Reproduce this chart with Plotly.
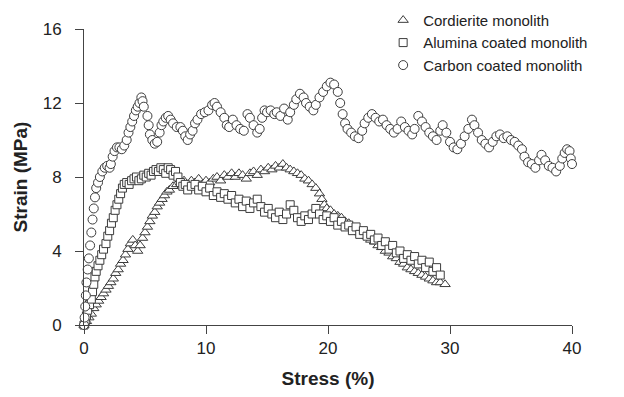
import plotly.graph_objects as go

# Cordierite monolith (triangles)
cord_x = [0, 0.2, 0.4, 0.6, 0.8, 1.0, 1.2, 1.4, 1.6, 1.8, 2.0, 2.2, 2.4, 2.6, 2.8, 3.0, 3.2, 3.4, 3.6, 3.8,
          4.0, 4.2, 4.4, 4.6, 4.8, 5.0, 5.2, 5.4, 5.6, 5.8, 6.0, 6.2, 6.4, 6.6, 6.8, 7.0, 7.3, 7.6, 7.9, 8.2,
          8.5, 8.8, 9.1, 9.4, 9.7, 10.0, 10.3, 10.6, 10.9, 11.2, 11.5, 11.8, 12.1, 12.4, 12.7, 13.0, 13.3, 13.6,
          13.9, 14.2, 14.5, 14.8, 15.1, 15.4, 15.7, 16.0, 16.3, 16.6, 16.9, 17.2, 17.5, 17.8, 18.1, 18.4, 18.7,
          19.0, 19.3, 19.5, 19.7, 19.9, 20.2, 20.5, 20.8, 21.1, 21.4, 21.7, 22.0, 22.3, 22.6, 22.9, 23.2, 23.5,
          23.8, 24.1, 24.4, 24.7, 25.0, 25.3, 25.6, 25.9, 26.2, 26.5, 26.8, 27.1, 27.4, 27.7, 28.0, 28.3, 28.6,
          28.9, 29.2, 29.6]
cord_y = [0, 0.2, 0.4, 0.6, 0.9, 1.1, 1.3, 1.5, 1.7, 1.9, 2.1, 2.3, 2.5, 2.8, 3.0, 3.3, 3.5, 3.8, 4.1, 4.4,
          4.6, 4.3, 4.0, 4.3, 4.7, 5.0, 5.3, 5.6, 5.9, 6.1, 6.4, 6.6, 6.8, 7.0, 7.2, 7.3, 7.5, 7.6, 7.7, 7.8,
          7.6, 7.8, 7.7, 7.9, 7.6, 7.8, 7.7, 7.9, 8.0, 7.8, 8.1, 8.0, 8.2, 8.0, 8.2, 8.1, 7.9, 8.2,
          8.3, 8.1, 8.4, 8.3, 8.5, 8.4, 8.6, 8.5, 8.7, 8.5, 8.4, 8.3, 8.2, 8.1, 7.9, 7.8, 7.6,
          7.4, 7.1, 6.8, 6.5, 6.3, 6.2, 6.0, 5.9, 5.8, 5.6, 5.5, 5.3, 5.2, 5.0, 4.9, 4.8, 4.6,
          4.5, 4.3, 4.2, 4.0, 3.9, 3.7, 3.6, 3.4, 3.3, 3.1, 3.0, 2.9, 2.8, 2.7, 2.6, 2.5, 2.4,
          2.3, 2.3, 2.2]

# Alumina coated monolith (squares)
alum_x = [0, 0.1, 0.2, 0.3, 0.45, 0.6, 0.7, 0.8, 0.9, 1.0, 1.15, 1.3, 1.45, 1.6, 1.8, 1.95, 2.1, 2.25, 2.4,
          2.55, 2.7, 2.85, 3.0, 3.15, 3.3, 3.5, 3.7, 3.9, 4.1, 4.3, 4.5, 4.7, 4.9, 5.1, 5.3, 5.5, 5.7, 5.9,
          6.1, 6.3, 6.5, 6.7, 6.9, 7.1, 7.3, 7.5, 7.7, 7.9, 8.1, 8.3, 8.5, 8.8, 9.1, 9.4, 9.7, 10.0, 10.3,
          10.6, 10.9, 11.2, 11.5, 11.8, 12.1, 12.4, 12.7, 13.0, 13.3, 13.6, 13.9, 14.2, 14.5, 14.8, 15.1,
          15.4, 15.7, 16.0, 16.3, 16.6, 16.9, 17.2, 17.5, 17.8, 18.1, 18.4, 18.7, 19.0, 19.3, 19.6, 19.9,
          20.2, 20.5, 20.8, 21.1, 21.4, 21.7, 22.0, 22.3, 22.6, 22.9, 23.2, 23.5, 23.8, 24.1, 24.4, 24.7,
          25.0, 25.3, 25.6, 25.9, 26.2, 26.5, 26.8, 27.1, 27.4, 27.7, 28.0, 28.3, 28.6, 28.9, 29.2]
alum_y = [0, 0.2, 0.5, 0.8, 1.1, 1.4, 1.8, 2.2, 2.6, 2.9, 3.2, 3.5, 3.8, 4.1, 4.4, 4.8, 5.1, 5.5, 5.8,
          6.2, 6.5, 6.8, 7.1, 7.4, 7.6, 7.7, 7.6, 7.8, 7.9, 8.0, 7.8, 7.9, 8.1, 8.0, 8.2, 8.1, 8.3, 8.4,
          8.3, 8.5, 8.4, 8.2, 8.5, 8.4, 8.1, 8.3, 8.0, 7.7, 7.5, 7.6, 7.3, 7.5, 7.6, 7.3, 7.5, 7.2, 7.4,
          7.0, 7.2, 6.9, 7.1, 6.8, 7.0, 6.6, 6.8, 6.4, 6.7, 6.3, 6.6, 6.8, 6.4, 6.1, 6.3,
          6.0, 5.8, 6.1, 5.7, 6.0, 6.5, 6.2, 5.8, 5.6, 5.9, 5.7, 6.0, 6.3, 6.0, 5.7, 5.9,
          5.6, 5.8, 5.4, 5.6, 5.3, 5.4, 5.1, 5.3, 4.9, 5.1, 4.8, 4.9, 4.6, 4.7, 4.3, 4.5,
          4.1, 4.3, 3.9, 4.0, 3.6, 3.8, 3.5, 3.7, 3.3, 3.5, 3.1, 3.4, 2.9, 3.1, 2.7]

# Carbon coated monolith (circles)
carb_x = [0, 0.05, 0.1, 0.15, 0.2, 0.3, 0.4, 0.5, 0.6, 0.7, 0.8, 0.9, 1.0, 1.15, 1.3, 1.5, 1.7, 1.9, 2.1,
          2.2, 2.35, 2.5, 2.7, 2.9, 3.1, 3.3, 3.5, 3.65, 3.8, 3.95, 4.1, 4.25, 4.4, 4.55, 4.7, 4.8, 4.9,
          5.2, 5.3, 5.4, 5.6, 5.8, 6.0, 6.2, 6.35, 6.5, 6.7, 6.9, 7.1, 7.3, 7.6, 7.9, 8.1, 8.3, 8.5, 8.7,
          8.9, 9.1, 9.3, 9.6, 9.9, 10.2, 10.5, 10.7, 10.9, 11.2, 11.5, 11.7, 11.9, 12.2, 12.5, 12.8, 13.1,
          13.4, 13.6, 13.9, 14.2, 14.4, 14.6, 14.8, 15.0, 15.3, 15.6, 15.8, 16.1, 16.4, 16.7, 16.9, 17.2,
          17.4, 17.7, 18.0, 18.2, 18.5, 18.8, 19.0, 19.3, 19.6, 19.9, 20.2, 20.5, 20.8, 21.0, 21.2, 21.4,
          21.6, 21.9, 22.2, 22.5, 22.8, 23.0, 23.3, 23.6, 23.9, 24.2, 24.5, 24.8, 25.1, 25.4, 25.7, 26.0,
          26.3, 26.6, 26.9, 27.1, 27.4, 27.7, 28.0, 28.3, 28.6, 28.9, 29.2, 29.4, 29.7, 30.0, 30.3, 30.6,
          30.9, 31.2, 31.5, 31.8, 32.0, 32.3, 32.6, 32.9, 33.2, 33.5, 33.8, 34.1, 34.4, 34.7, 35.0, 35.3,
          35.6, 35.9, 36.1, 36.4, 36.7, 37.0, 37.3, 37.5, 37.8, 38.1, 38.4, 38.7, 39.0, 39.2, 39.4, 39.6,
          39.8, 39.9, 40.0, 40.1, 40.2, 40.3]
carb_y = [0, 0.4, 1.0, 1.6, 2.3, 3.0, 3.6, 4.3, 5.0, 5.7, 6.3, 6.9, 7.4, 7.7, 8.0, 8.3, 8.5, 8.6, 8.5,
          8.7, 9.1, 9.4, 9.6, 9.6, 9.5, 9.7, 10.0, 10.4, 10.7, 11.0, 11.3, 11.6, 11.8, 12.0, 12.3, 12.1, 11.8,
          11.3, 10.8, 10.3, 10.0, 9.8, 9.9, 10.4, 10.8, 11.0, 11.2, 11.3, 11.1, 10.9, 10.7, 10.7, 10.5, 10.2, 10.0, 10.3,
          10.5, 10.9, 11.1, 11.4, 11.5, 11.6, 11.9, 12.0, 11.8, 11.5, 11.2, 10.8, 10.7, 11.1, 10.8, 10.6, 10.5,
          11.4, 11.2, 10.8, 10.4, 10.6, 11.2, 11.6, 11.5, 11.6, 11.4, 11.5, 11.3, 11.7, 11.1, 11.5, 11.9,
          12.2, 12.5, 12.3, 12.0, 11.8, 11.6, 11.9, 12.3, 12.6, 12.9, 13.1, 13.0, 12.6, 12.0, 11.4, 10.9,
          10.6, 10.4, 10.2, 10.1, 10.5, 10.9, 11.2, 11.4, 11.2, 11.0, 11.1, 10.8, 10.6, 10.4, 10.6, 11.0,
          10.7, 10.5, 10.3, 10.6, 11.3, 11.0, 10.7, 10.4, 10.2, 10.0, 10.5, 10.8, 10.4, 9.9, 9.6, 9.5,
          9.8, 10.2, 10.6, 11.1, 10.8, 10.4, 10.0, 9.8, 9.6, 9.9, 10.2, 10.3, 10.1, 10.2, 10.0, 9.9,
          9.7, 9.5, 9.1, 8.8, 8.7, 8.5, 8.9, 9.2, 8.9, 8.6, 8.5, 8.3, 8.6, 9.0, 9.3, 9.5,
          9.4, 9.0, 8.7, 8.4, 8.6, 8.3]

x_ticks = [0, 10, 20, 30, 40]
y_ticks = [0, 4, 8, 12, 16]

edge = "#3c3c3c"
axis_col = "#444444"
font_family = "Liberation Sans, Arial, sans-serif"

fig = go.Figure()
fig.add_trace(go.Scatter(x=cord_x, y=cord_y, mode="markers", name="Cordierite monolith",
                         cliponaxis=False,
                         marker=dict(symbol="triangle-up", size=9, color="white",
                                     line=dict(color=edge, width=1))))
fig.add_trace(go.Scatter(x=alum_x, y=alum_y, mode="markers", name="Alumina coated monolith",
                         cliponaxis=False,
                         marker=dict(symbol="square", size=8, color="white",
                                     line=dict(color=edge, width=1))))
fig.add_trace(go.Scatter(x=carb_x, y=carb_y, mode="markers", name="Carbon coated monolith",
                         cliponaxis=False,
                         marker=dict(symbol="circle", size=9, color="white",
                                     line=dict(color=edge, width=1))))

fig.update_layout(
    width=624, height=397,
    margin=dict(l=84, r=52, t=29, b=72, autoexpand=False),
    paper_bgcolor="white", plot_bgcolor="white",
    font=dict(family=font_family, color="#222222"),
    showlegend=True,
    legend=dict(x=0.613, y=1.085, xanchor="left", yanchor="top",
                font=dict(size=15, color="#222222"), bgcolor="rgba(0,0,0,0)",
                itemsizing="trace", tracegroupgap=0),
    xaxis=dict(range=[0, 40], tickvals=x_ticks, ticktext=[str(v) for v in x_ticks],
               showgrid=False, zeroline=False, showline=True, linecolor=axis_col, linewidth=1,
               ticks="outside", ticklen=8, tickcolor=axis_col, tickwidth=1,
               tickfont=dict(size=17, color="#222222"),
               title=dict(text="<b>Stress (%)</b>", font=dict(size=19, color="#222222"), standoff=14)),
    yaxis=dict(range=[0, 16], tickvals=y_ticks, ticktext=[str(v) for v in y_ticks],
               showgrid=False, zeroline=False, showline=True, linecolor=axis_col, linewidth=1,
               ticks="outside", ticklen=8, tickcolor=axis_col, tickwidth=1,
               ticklabelstandoff=10,
               tickfont=dict(size=17, color="#222222"),
               title=dict(text="<b>Strain (MPa)</b>", font=dict(size=19, color="#222222"), standoff=10)),
)

fig.write_html("out.html")
